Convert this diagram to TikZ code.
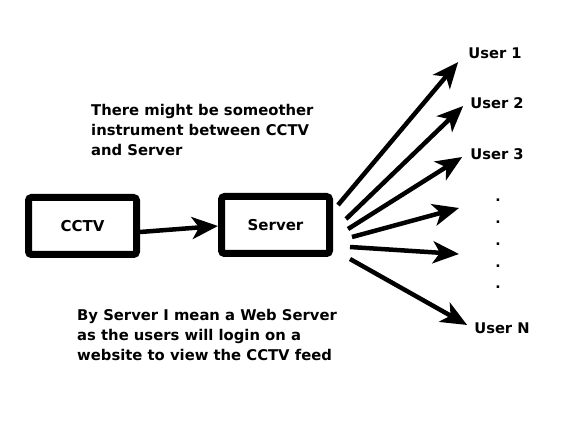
\documentclass[tikz,border=0pt]{standalone}
\usepackage{fontspec}
\setmainfont{DejaVu Sans}
\usetikzlibrary{arrows.meta}

\begin{document}
\begin{tikzpicture}[x=1pt, y=1pt,
    box/.style={rectangle, draw, line width=7pt, rounded corners=3pt, minimum width=108pt, minimum height=57pt, font=\fontsize{15}{18}\selectfont\bfseries},
    user/.style={font=\fontsize{14.7}{18}\selectfont\bfseries, inner sep=1pt},
    note/.style={anchor=north west, align=left, inner sep=0pt, font=\fontsize{14.8}{20}\selectfont\bfseries},
    fat/.style={line width=4.5pt, -{Stealth[length=26pt, width=22pt, inset=7pt]}}]

    \useasboundingbox (0,0) rectangle (580,420);

    % Boxes
    \node[box] (cctv) at (82.5,194) {CCTV};
    \node[box] (server) at (275.5,195) {Server};

    % Users
    \node[user] (u1) at (495,367) {User 1};
    \node[user] (u2) at (497,317) {User 2};
    \node[user] (u3) at (497,266) {User 3};
    \node[user, align=center, font=\fontsize{14}{21.7}\selectfont\bfseries] (dots) at (498,176) {.\\.\\.\\.\\.};
    \node[user] (un) at (502,92) {User N};
    \coordinate (d1) at (459,212);
    \coordinate (d2) at (459,166);

    % Notes
    \node[note] (note1) at (91,316) {There might be someother\\instrument between CCTV\\and Server};
    \node[note] (note2) at (77,111) {By Server I mean a Web Server\\as the users will login on a\\website to view the CCTV feed};

    % Arrows
    \draw[fat] ([yshift=-6pt]cctv.east) -- ([yshift=-1pt]server.west);
    \draw[fat] ([shift={(5pt,20pt)}]server.east) -- ([shift={(-9pt,-9pt)}]u1.west);
    \draw[fat] ([shift={(13pt,6pt)}]server.east) -- ([shift={(-6pt,-3pt)}]u2.west);
    \draw[fat] ([shift={(15pt,-4pt)}]server.east) -- ([shift={(-7pt,-3pt)}]u3.west);
    \draw[fat] ([shift={(19pt,-12pt)}]server.east) -- (d1);
    \draw[fat] ([shift={(17pt,-22pt)}]server.east) -- (d2);
    \draw[fat] ([shift={(17pt,-34pt)}]server.east) -- ([shift={(-6pt,3pt)}]un.west);
\end{tikzpicture}
\end{document}
